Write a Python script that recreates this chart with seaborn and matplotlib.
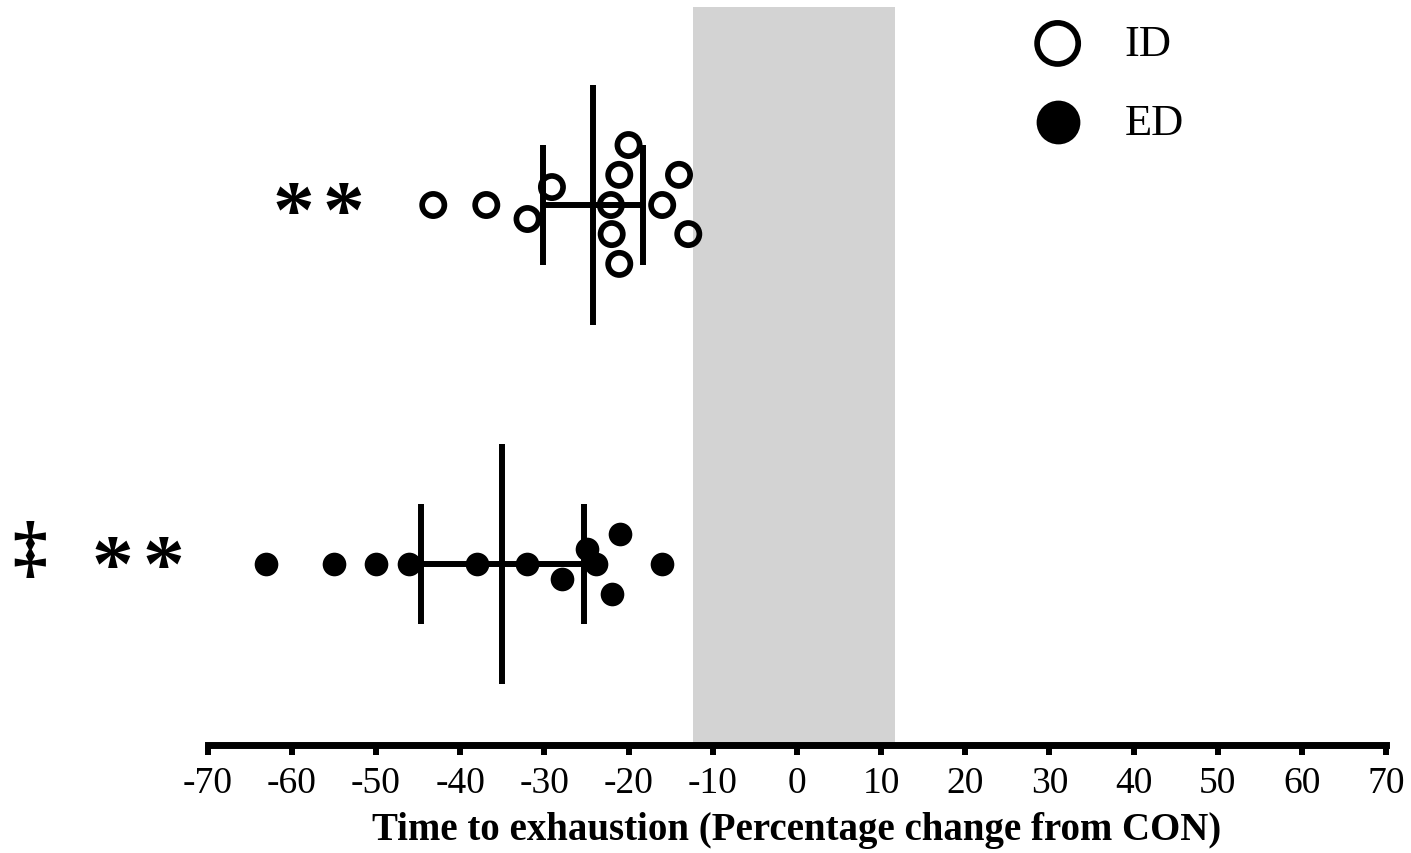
import numpy as np
import pandas as pd
import matplotlib
matplotlib.use("Agg")
import matplotlib.pyplot as plt
import seaborn as sns
from matplotlib.font_manager import FontProperties

# ---------------- data ----------------
groups = ["ID", "ED"]
id_values = [-43.2, -36.9, -32.0, -29.1, -20.0, -21.1, -14.0, -22.1, -16.0, -22.0, -12.9, -21.1]
id_offsets = [0, 0, -0.039, 0.05, 0.167, 0.084, 0.084, 0, 0, -0.081, -0.081, -0.164]
ed_values = [-63.1, -55.0, -50.0, -46.1, -38.0, -32.1, -27.9, -24.9, -23.9, -21.0, -22.0, -16.0]
ed_offsets = [0, 0, 0, 0, 0, 0, -0.042, 0.042, 0, 0.084, -0.084, 0]
row_of_group = {"ID": 1.0, "ED": 0.0}
con_band = [-12.35, 11.66]          # CON reference band
t_crit = 2.201                      # t(0.975, df=11) for 95% CI
xticks = list(range(-70, 71, 10))
xlabel = "Time to exhaustion (Percentage change from CON)"
sig_id = "**"
sig_ed_dagger = "\u2021"
sig_ed_stars = "**"

# ---------------- styling ----------------
sns.set_style("white")
plt.rcParams["font.family"] = ["Liberation Serif", "DejaVu Serif"]
plt.rcParams["text.color"] = "black"
plt.rcParams["axes.labelcolor"] = "black"
plt.rcParams["xtick.color"] = "black"

df = pd.DataFrame({
    "value": id_values + ed_values,
    "group": ["ID"] * len(id_values) + ["ED"] * len(ed_values),
    "offset": id_offsets + ed_offsets,
})
df["y"] = df["group"].map(row_of_group) + df["offset"]

fig = plt.figure(figsize=(14.11, 8.54), dpi=100)
ax = fig.add_axes([207.7 / 1411, (854 - 746) / 854, (1386 - 207.7) / 1411, (746 - 8) / 854])

ax.axvspan(con_band[0], con_band[1], color="#d3d3d3", lw=0, zorder=0)

sns.scatterplot(data=df[df["group"] == "ID"], x="value", y="y", marker="o", s=256,
                facecolor="none", edgecolor="black", linewidth=4.1, label="ID",
                ax=ax, zorder=2)
sns.scatterplot(data=df[df["group"] == "ED"], x="value", y="y", marker="o", s=290,
                color="black", linewidth=0, label="ED", ax=ax, zorder=2)

lw = 4.3
for g in groups:
    vals = np.array(df.loc[df["group"] == g, "value"])
    m = vals.mean()
    half = t_crit * vals.std(ddof=1) / np.sqrt(len(vals))
    r = row_of_group[g]
    ax.vlines(m, r - 0.334, r + 0.334, color="black", lw=lw, zorder=3)
    ax.vlines([m - half, m + half], r - 0.167, r + 0.167, color="black", lw=lw, zorder=3)
    ax.hlines(r, m - half, m + half, color="black", lw=lw, zorder=3)

ax.set_xlim(-70, 70)
ax.set_ylim(-0.504, 1.5515)
ax.set_yticks([])
ax.set_ylabel("")
ax.set_xticks(xticks)
ax.set_xticklabels([str(t) for t in xticks])
ax.tick_params(axis="x", direction="out", length=7, width=4.3, labelsize=27, pad=8,
               color="black", bottom=True)
for s in ["top", "right", "left"]:
    ax.spines[s].set_visible(False)
ax.spines["bottom"].set_linewidth(5)
ax.spines["bottom"].set_color("black")
ax.set_xlabel(xlabel, fontsize=28, fontweight="bold", labelpad=8)

# significance marks (each asterisk placed individually)
for ch, x in zip(sig_id, [-59.87, -53.93]):
    ax.text(x, 0.967, ch, fontsize=60, fontweight="bold", ha="center", va="center",
            clip_on=False)
ax.text(-91.2, 0.033, sig_ed_dagger, fontsize=50, fontweight="bold", ha="center",
        va="center", clip_on=False)
for ch, x in zip(sig_ed_stars, [-81.3, -75.3]):
    ax.text(x, -0.019, ch, fontsize=60, fontweight="bold", ha="center", va="center",
            clip_on=False)

h, l = ax.get_legend_handles_labels()
ax.legend(h, l, loc="upper left", bbox_to_anchor=(1031 / 1411, 1 - 25 / 854),
          bbox_transform=fig.transFigure, frameon=False, markerscale=1.85,
          prop=FontProperties(family="Liberation Serif", size=32),
          handlelength=1.2, handletextpad=0.9, labelspacing=0.87,
          borderpad=0, borderaxespad=0)

fig.savefig("out.png", dpi=100)
